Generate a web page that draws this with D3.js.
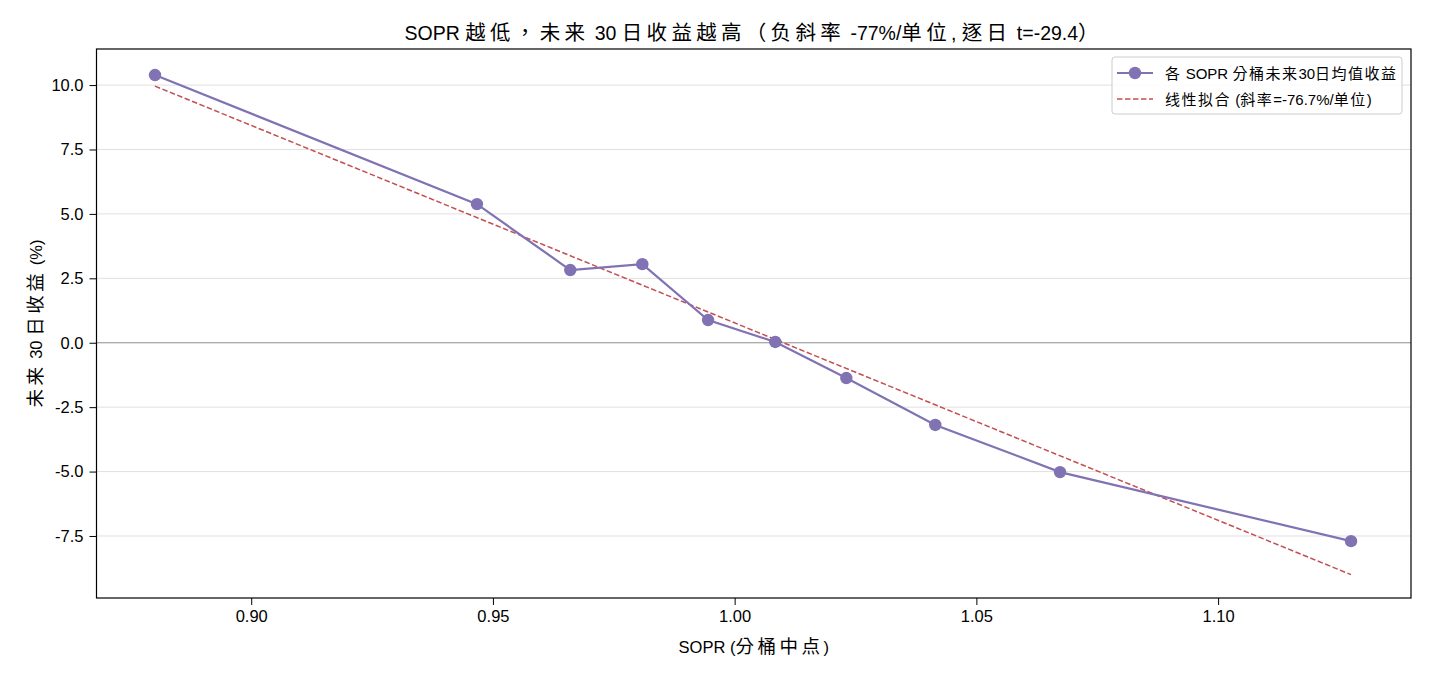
<!DOCTYPE html>
<html>
<head>
<meta charset="utf-8">
<script src="https://cdn.jsdelivr.net/npm/d3@7"></script>
<style>
  html, body { margin: 0; padding: 0; background: #fff; }
  svg { display: block; font-family: "Liberation Sans", Arial, sans-serif; }
</style>
</head>
<body>
<svg id="chart" width="1430" height="676"></svg>
<script>
// ---- data ----
const sopr = [0.8801, 0.9467, 0.9660, 0.9809, 0.9945, 1.0084, 1.0231, 1.0415, 1.0673, 1.1275];
const fwdReturn = [10.39, 5.38, 2.82, 3.05, 0.88, 0.03, -1.37, -3.19, -5.02, -7.70];
const fitX = [0.8801, 1.1275];
const fitY = [9.96, -9.00];
const xTicks = [0.90, 0.95, 1.00, 1.05, 1.10];
const yTicks = [-7.5, -5.0, -2.5, 0.0, 2.5, 5.0, 7.5, 10.0];
const titleText = "SOPR 越低，未来 30 日收益越高（负斜率 -77%/单位, 逐日 t=-29.4）";
const xLabel = "SOPR (分桶中点)";
const yLabel = "未来 30 日收益 (%)";
const legendLabels = ["各 SOPR 分桶未来30日均值收益", "线性拟合 (斜率=-76.7%/单位)"];

// ---- helpers ----
const CJK_RE = /([\u3000-\u303f\u4e00-\u9fff\uff00-\uffef]+)/;
function richText(textSel, str, latinSize, cjkSize, cjkSpacing) {
  str.split(CJK_RE).filter(s => s.length).forEach(seg => {
    const m = seg.match(CJK_RE);
    const isCJK = m && m[0] === seg;
    const t = textSel.append("tspan")
      .attr("font-family", isCJK ? "'Noto Sans CJK TC', 'Noto Sans CJK SC', sans-serif" : "'Liberation Sans', Arial, sans-serif")
      .attr("font-size", isCJK ? cjkSize : latinSize)
      .style("white-space", "pre")
      .text(seg);
    if (isCJK && cjkSpacing) t.attr("letter-spacing", cjkSpacing);
  });
  return textSel;
}

// ---- layout ----
const svg = d3.select("#chart");
const L = 96.5, R = 1411, T = 49, B = 598;
const purple = "#8172b3", red = "#c44e52";

const x = d3.scaleLinear().domain([0.868, 1.1399]).range([L, R]);
const y = d3.scaleLinear().domain([-9.907, 11.40]).range([B, T]);

// grid
svg.append("g").selectAll("line").data(yTicks).join("line")
  .attr("x1", L).attr("x2", R)
  .attr("y1", d => y(d)).attr("y2", d => y(d))
  .attr("stroke", "#e0e0e0").attr("stroke-width", 1);

// zero line
svg.append("line").attr("x1", L).attr("x2", R)
  .attr("y1", y(0)).attr("y2", y(0))
  .attr("stroke", "#999").attr("stroke-width", 1.1);

// fit line
svg.append("path")
  .datum(fitX.map((d, i) => [d, fitY[i]]))
  .attr("d", d3.line().x(d => x(d[0])).y(d => y(d[1])))
  .attr("fill", "none").attr("stroke", red).attr("stroke-width", 1.5)
  .attr("stroke-dasharray", "5.5,2.5");

// data line
const pts = sopr.map((d, i) => [d, fwdReturn[i]]);
svg.append("path").datum(pts)
  .attr("d", d3.line().x(d => x(d[0])).y(d => y(d[1])))
  .attr("fill", "none").attr("stroke", purple).attr("stroke-width", 2.2);
svg.append("g").selectAll("circle").data(pts).join("circle")
  .attr("cx", d => x(d[0])).attr("cy", d => y(d[1])).attr("r", 6.2)
  .attr("fill", purple);

// axes
const xAxis = svg.append("g").attr("transform", `translate(0,${B})`)
  .call(d3.axisBottom(x).tickValues(xTicks).tickFormat(d3.format(".2f")).tickSize(7).tickPadding(5));
const yAxis = svg.append("g").attr("transform", `translate(${L},0)`)
  .call(d3.axisLeft(y).tickValues(yTicks).tickFormat(d => d3.format(".1f")(d).replace("−", "-")).tickSize(7).tickPadding(6));
[xAxis, yAxis].forEach(g => {
  g.attr("font-size", null).attr("font-family", null);
  g.select(".domain").remove();
  g.selectAll("text").style("font-size", "16.5px").attr("fill", "#000")
    .style("font-family", "'Liberation Sans', Arial, sans-serif");
  g.selectAll("line").attr("stroke", "#000").attr("stroke-width", 1);
});

// frame
svg.append("rect").attr("x", L).attr("y", T).attr("width", R - L).attr("height", B - T)
  .attr("fill", "none").attr("stroke", "#000").attr("stroke-width", 1.2);

// title & labels
richText(svg.append("text").attr("x", (L + R) / 2).attr("y", 40).attr("text-anchor", "middle")
  .attr("fill", "#000"), titleText, 19.5, 20.5, 4.3);
richText(svg.append("text").attr("x", (L + R) / 2).attr("y", 653).attr("text-anchor", "middle")
  .attr("fill", "#000"), xLabel, 16.5, 18.5, 3.5);
richText(svg.append("text").attr("transform", `translate(42,${(T + B) / 2}) rotate(-90)`)
  .attr("text-anchor", "middle").attr("fill", "#000"), yLabel, 16.5, 18.5, 3.5);

// legend
const lg = svg.append("g").attr("transform", "translate(1112,57)");
lg.append("rect").attr("width", 290).attr("height", 57).attr("rx", 3)
  .attr("fill", "#fff").attr("fill-opacity", 0.85).attr("stroke", "#ccc").attr("stroke-width", 1);
lg.append("line").attr("x1", 5).attr("x2", 41).attr("y1", 16).attr("y2", 16)
  .attr("stroke", purple).attr("stroke-width", 2.2);
lg.append("circle").attr("cx", 23).attr("cy", 16).attr("r", 6.2).attr("fill", purple);
lg.append("line").attr("x1", 5).attr("x2", 41).attr("y1", 42).attr("y2", 42)
  .attr("stroke", red).attr("stroke-width", 1.5).attr("stroke-dasharray", "5.5,2.5");
legendLabels.forEach((lab, i) => {
  richText(lg.append("text").attr("x", 53).attr("y", 21.5 + i * 26).attr("fill", "#000"), lab, 15, 15, 1.5);
});
</script>
</body>
</html>
